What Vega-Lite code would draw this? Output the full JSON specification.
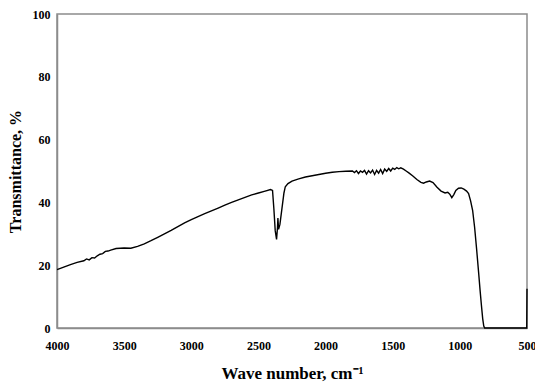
{
  "$schema": "https://vega.github.io/schema/vega-lite/v6.json",
  "width": 470,
  "height": 314,
  "autosize": {"type": "none"},
  "padding": {"left": 57, "top": 14, "right": 8, "bottom": 54},
  "background": "white",
  "config": {
    "view": {"stroke": "#8c8c8c", "strokeWidth": 1.5},
    "font": "Liberation Serif"
  },
  "data": {
    "values": [
      {"wn": 4000, "t": 18.6}, {"wn": 3950, "t": 19.4}, {"wn": 3900, "t": 20.2}, {"wn": 3850, "t": 20.9},
      {"wn": 3800, "t": 21.4}, {"wn": 3780, "t": 22.0}, {"wn": 3760, "t": 21.7}, {"wn": 3740, "t": 22.4},
      {"wn": 3720, "t": 22.3}, {"wn": 3700, "t": 23.0}, {"wn": 3680, "t": 23.5}, {"wn": 3660, "t": 23.7},
      {"wn": 3640, "t": 24.4}, {"wn": 3620, "t": 24.5}, {"wn": 3600, "t": 24.8}, {"wn": 3560, "t": 25.3},
      {"wn": 3500, "t": 25.5}, {"wn": 3450, "t": 25.4}, {"wn": 3400, "t": 26.0}, {"wn": 3350, "t": 26.8},
      {"wn": 3300, "t": 27.8}, {"wn": 3250, "t": 28.9}, {"wn": 3200, "t": 30.0}, {"wn": 3150, "t": 31.1},
      {"wn": 3100, "t": 32.3}, {"wn": 3050, "t": 33.5}, {"wn": 3000, "t": 34.5}, {"wn": 2950, "t": 35.5},
      {"wn": 2900, "t": 36.4}, {"wn": 2850, "t": 37.3}, {"wn": 2800, "t": 38.2}, {"wn": 2750, "t": 39.1},
      {"wn": 2700, "t": 40.0}, {"wn": 2650, "t": 40.8}, {"wn": 2600, "t": 41.6}, {"wn": 2550, "t": 42.4},
      {"wn": 2500, "t": 43.0}, {"wn": 2450, "t": 43.6}, {"wn": 2410, "t": 44.1}, {"wn": 2395, "t": 43.8},
      {"wn": 2385, "t": 38.0}, {"wn": 2375, "t": 31.0}, {"wn": 2365, "t": 28.2}, {"wn": 2358, "t": 32.0},
      {"wn": 2355, "t": 35.0}, {"wn": 2350, "t": 31.4}, {"wn": 2340, "t": 33.0}, {"wn": 2325, "t": 38.0},
      {"wn": 2310, "t": 43.0}, {"wn": 2300, "t": 45.0}, {"wn": 2280, "t": 46.0}, {"wn": 2250, "t": 46.8},
      {"wn": 2200, "t": 47.5}, {"wn": 2150, "t": 48.1}, {"wn": 2100, "t": 48.5}, {"wn": 2050, "t": 48.9},
      {"wn": 2000, "t": 49.3}, {"wn": 1950, "t": 49.6}, {"wn": 1900, "t": 49.8}, {"wn": 1850, "t": 49.9},
      {"wn": 1800, "t": 50.0}, {"wn": 1785, "t": 49.5}, {"wn": 1770, "t": 50.1}, {"wn": 1755, "t": 49.2},
      {"wn": 1740, "t": 50.0}, {"wn": 1725, "t": 49.6}, {"wn": 1710, "t": 50.2}, {"wn": 1695, "t": 49.0},
      {"wn": 1680, "t": 50.1}, {"wn": 1665, "t": 49.4}, {"wn": 1650, "t": 50.3}, {"wn": 1635, "t": 48.9},
      {"wn": 1620, "t": 50.2}, {"wn": 1605, "t": 49.3}, {"wn": 1590, "t": 50.5}, {"wn": 1575, "t": 49.2},
      {"wn": 1560, "t": 50.6}, {"wn": 1545, "t": 49.9}, {"wn": 1530, "t": 50.8}, {"wn": 1515, "t": 50.0},
      {"wn": 1500, "t": 50.9}, {"wn": 1485, "t": 50.5}, {"wn": 1470, "t": 51.1}, {"wn": 1455, "t": 50.7},
      {"wn": 1440, "t": 51.0}, {"wn": 1420, "t": 50.6},
      {"wn": 1400, "t": 50.0}, {"wn": 1380, "t": 49.4}, {"wn": 1350, "t": 48.4}, {"wn": 1320, "t": 47.3},
      {"wn": 1290, "t": 46.4}, {"wn": 1270, "t": 46.1}, {"wn": 1250, "t": 46.5}, {"wn": 1225, "t": 46.8},
      {"wn": 1200, "t": 46.3}, {"wn": 1170, "t": 44.8}, {"wn": 1140, "t": 43.6}, {"wn": 1110, "t": 43.0},
      {"wn": 1090, "t": 43.2}, {"wn": 1075, "t": 42.6}, {"wn": 1060, "t": 41.5}, {"wn": 1045, "t": 42.5},
      {"wn": 1030, "t": 43.8}, {"wn": 1010, "t": 44.5}, {"wn": 990, "t": 44.6}, {"wn": 970, "t": 44.2},
      {"wn": 950, "t": 43.6}, {"wn": 935, "t": 42.8}, {"wn": 920, "t": 40.5}, {"wn": 905, "t": 37.5},
      {"wn": 890, "t": 32.0}, {"wn": 875, "t": 25.0}, {"wn": 860, "t": 17.5}, {"wn": 850, "t": 12.3},
      {"wn": 840, "t": 7.5}, {"wn": 830, "t": 3.0}, {"wn": 822, "t": 0.6}, {"wn": 815, "t": 0},
      {"wn": 700, "t": 0}, {"wn": 600, "t": 0}, {"wn": 502, "t": 0}, {"wn": 500, "t": 12.5}
    ]
  },
  "mark": {"type": "line", "color": "black", "strokeWidth": 1.4},
  "encoding": {
    "x": {
      "field": "wn", "type": "quantitative",
      "scale": {"domain": [500, 4000], "reverse": true, "nice": false},
      "axis": {
        "values": [4000, 3500, 3000, 2500, 2000, 1500, 1000, 500], "format": "d",
        "grid": false, "ticks": false, "domainColor": "#8c8c8c", "domainWidth": 1.5,
        "labelFont": "Liberation Serif", "labelFontWeight": "bold", "labelFontSize": 12, "labelColor": "black",
        "labelPadding": 12, "labelOverlap": false, "labelFlush": false,
        "title": "Wave number, cm⁻¹", "titleFont": "Liberation Serif", "titleFontWeight": "bold",
        "titleFontSize": 17, "titleColor": "black", "titlePadding": 14
      }
    },
    "y": {
      "field": "t", "type": "quantitative",
      "scale": {"domain": [0, 100], "nice": false},
      "axis": {
        "values": [0, 20, 40, 60, 80, 100], "format": "d",
        "grid": false, "ticks": false, "domainColor": "#8c8c8c", "domainWidth": 1.5,
        "labelFont": "Liberation Serif", "labelFontWeight": "bold", "labelFontSize": 12, "labelColor": "black",
        "labelPadding": 7,
        "title": "Transmittance, %", "titleFont": "Liberation Serif", "titleFontWeight": "bold",
        "titleFontSize": 16, "titleColor": "black", "titlePadding": 9
      }
    }
  }
}
